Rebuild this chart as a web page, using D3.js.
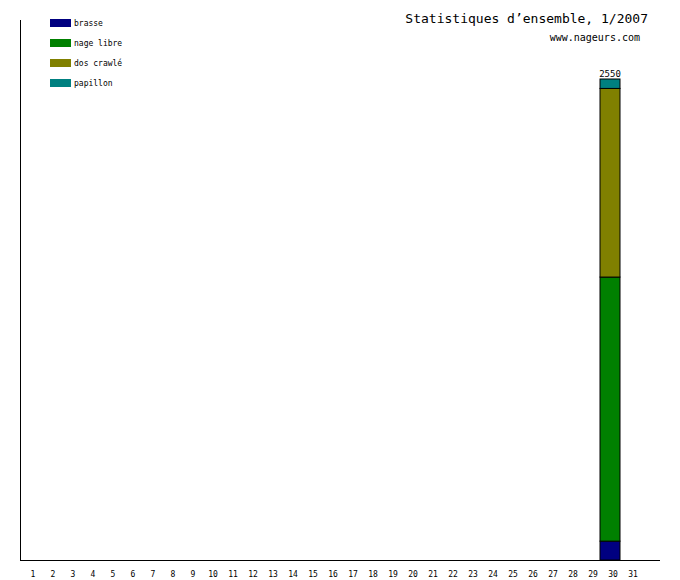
<!DOCTYPE html>
<html><head><meta charset="utf-8">
<script src="https://cdn.jsdelivr.net/npm/d3@7"></script>
<style>body{margin:0;background:#fff}text{font-family:"DejaVu Sans Mono",monospace}</style>
</head><body><svg width="680" height="580"></svg>
<script>
var days = d3.range(1, 32);
var strokes = ['brasse', 'nage libre', 'dos crawlé', 'papillon'];
var colors = ['#000080', '#008000', '#808000', '#008080'];
// values per day: only day 30 has data
var brasse = days.map(function(d) { return d === 30 ? 100 : 0; });
var nageLibre = days.map(function(d) { return d === 30 ? 1400 : 0; });
var dosCrawle = days.map(function(d) { return d === 30 ? 1000 : 0; });
var papillon = days.map(function(d) { return d === 30 ? 50 : 0; });

var svg = d3.select('svg');
var x = d3.scaleBand().domain(days).range([20, 640]).padding(0);
var y = d3.scaleLinear().domain([0, 2550]).range([560, 79]);

var rows = days.map(function(d, i) {
  return { day: d, brasse: brasse[i], 'nage libre': nageLibre[i], 'dos crawlé': dosCrawle[i], papillon: papillon[i] };
});
var series = d3.stack().keys(strokes)(rows);

svg.selectAll('g.s').data(series).enter().append('g')
  .attr('fill', function(s, i) { return colors[i]; })
  .selectAll('rect').data(function(s) { return s.filter(function(p) { return p[1] > p[0]; }); })
  .enter().append('rect')
    .attr('x', function(p) { return x(p.data.day); })
    .attr('width', x.bandwidth())
    .attr('y', function(p) { return y(p[1]); })
    .attr('height', function(p) { return y(p[0]) - y(p[1]); })
    .attr('stroke', '#000').attr('stroke-width', 1);

rows.forEach(function(r, i) {
  var t = brasse[i] + nageLibre[i] + dosCrawle[i] + papillon[i];
  if (t > 0) {
    svg.append('text').attr('x', x(r.day) + x.bandwidth() / 2).attr('y', y(t) - 2)
      .attr('text-anchor', 'middle').attr('font-size', 9).text(t);
  }
});

svg.append('line').attr('x1', 20.5).attr('x2', 20.5).attr('y1', 20).attr('y2', 560).attr('stroke', '#000');
svg.append('line').attr('x1', 20).attr('x2', 660).attr('y1', 560.5).attr('y2', 560.5).attr('stroke', '#000');

svg.selectAll('text.day').data(days).enter().append('text')
  .attr('x', function(d) { return x(d) + x.bandwidth() / 2 + 3; })
  .attr('y', 577).attr('text-anchor', 'middle').attr('font-size', 8)
  .text(function(d) { return d; });

var lg = svg.selectAll('g.lg').data(strokes).enter().append('g')
  .attr('transform', function(d, i) { return 'translate(50,' + (19 + i * 20) + ')'; });
lg.append('rect').attr('width', 21).attr('height', 8).attr('fill', function(d, i) { return colors[i]; });
lg.append('text').attr('x', 24).attr('y', 7).attr('font-size', 8).text(function(d) { return d; });

svg.append('text').attr('x', 648).attr('y', 23).attr('text-anchor', 'end').attr('font-size', 13)
  .text('Statistiques d’ensemble, 1/2007');
svg.append('text').attr('x', 640).attr('y', 41).attr('text-anchor', 'end').attr('font-size', 10)
  .text('www.nageurs.com');
</script></body></html>
